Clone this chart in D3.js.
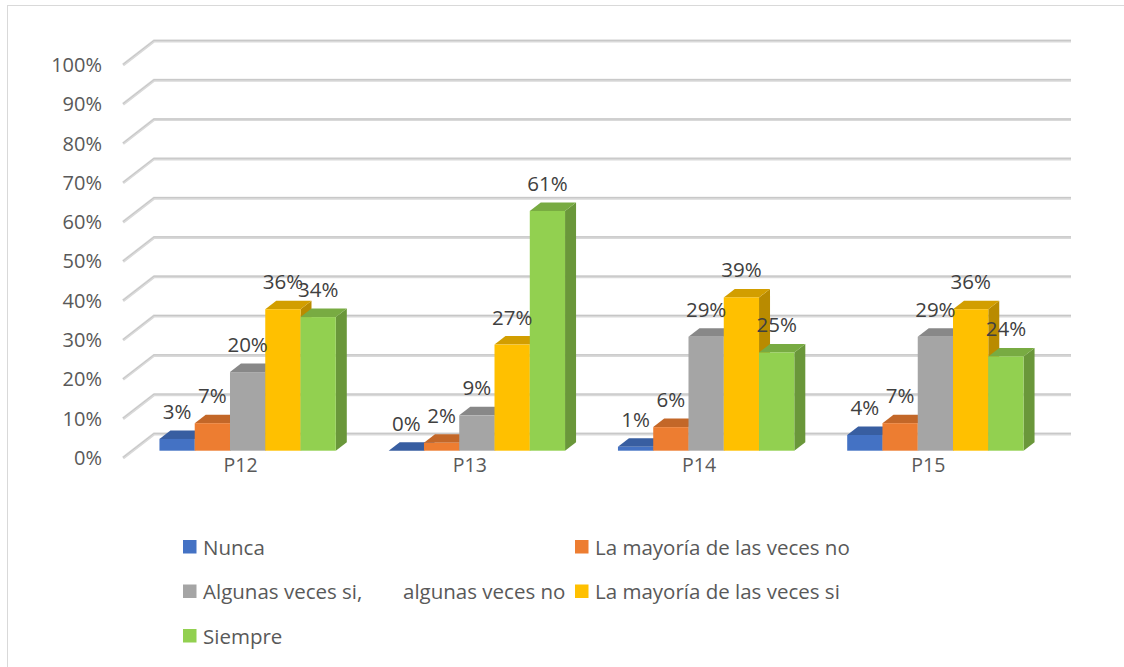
<!DOCTYPE html>
<html>
<head>
<meta charset="utf-8">
<script src="https://cdn.jsdelivr.net/npm/d3@7"></script>
<style>
  body { margin: 0; background: #fff; }
  svg { display: block; font-family: "Open Sans", Lato, sans-serif; }
</style>
</head>
<body>
<svg id="chart" width="1124" height="667"></svg>
<script>
// data
const categories = ['P12', 'P13', 'P14', 'P15']
const series = ['Nunca', 'La mayoría de las veces no', 'Algunas veces si,\talgunas veces no', 'La mayoría de las veces si', 'Siempre']
const nunca = [3, 0, 1, 4]
const mayoriaNo = [7, 2, 6, 7]
const algunas = [20, 9, 29, 29]
const mayoriaSi = [36, 27, 39, 36]
const siempre = [34, 61, 25, 24]
const yTicks = [0, 10, 20, 30, 40, 50, 60, 70, 80, 90, 100]
const colors = ['#4472C4', '#ED7D31', '#A5A5A5', '#FFC000', '#92D050']

const values = [nunca, mayoriaNo, algunas, mayoriaSi, siempre]

const svg = d3.select('#chart')

// chart border
svg.append('rect')
    .attr('x', 7.5).attr('y', 5.5)
    .attr('width', 1140).attr('height', 700)
    .attr('fill', 'none').attr('stroke', '#d9d9d9')

// front edge of the floor / side wall
const y = d3.scaleLinear().domain([0, 100]).range([458, 65])
const xFront = d3.scaleBand().domain(categories).range([123, 1040])
const wall = {dx: 31, dy: -24}      // depth of the side wall
const barPlane = {dx: 10, dy: -7.3} // where the bar fronts sit
const barDepth = {dx: 11, dy: -8.5}

// gridlines: diagonal on the side wall, then along the back wall
const grid = svg.append('g')
yTicks.forEach(t => {
    const pts = [[123, y(t)], [123 + wall.dx, y(t) + wall.dy], [1040 + wall.dx, y(t) + wall.dy]]
    grid.append('path').attr('d', d3.line()(pts))
        .attr('fill', 'none').attr('stroke', '#d9d9d9').attr('stroke-width', 3)
    grid.append('path').attr('d', d3.line()(pts.map(p => [p[0], p[1] - 0.6])))
        .attr('fill', 'none').attr('stroke', '#c6c6c6').attr('stroke-width', 1)
})

// value axis
const yAxis = svg.append('g')
    .attr('transform', 'translate(110,0)')
    .call(d3.axisLeft(y).tickValues(yTicks).tickSize(0).tickPadding(8).tickFormat(d => d + '%'))
yAxis.select('.domain').remove()
yAxis.selectAll('text')
    .attr('fill', '#595959').style('font-size', '20px').style('font-family', '"Open Sans", sans-serif')

// category axis
const xAxis = svg.append('g')
    .attr('transform', 'translate(0,458)')
    .call(d3.axisBottom(xFront).tickSize(0).tickPadding(0))
xAxis.select('.domain').remove()
xAxis.selectAll('text')
    .attr('transform', 'translate(3,0)')
    .attr('fill', '#595959').style('font-size', '19.5px').style('font-family', '"Open Sans", sans-serif')

// bars
const bw = xFront.bandwidth()
const barW = bw / (series.length + 1.5)
const xSeries = d3.scaleBand().domain(d3.range(series.length))
    .range([barW * 0.75, bw - barW * 0.75])

const bars = svg.append('g')
const labels = svg.append('g')
categories.forEach((c, ci) => {
    series.forEach((s, si) => {
        const v = values[si][ci]
        const x0 = xFront(c) + barPlane.dx + xSeries(si)
        const x1 = x0 + xSeries.bandwidth()
        const base = y(0) + barPlane.dy
        const top = y(v) + barPlane.dy
        const col = d3.color(colors[si])
        const {dx, dy} = barDepth
        bars.append('path')
            .attr('d', d3.line()([[x1, top], [x1 + dx, top + dy], [x1 + dx, base + dy], [x1, base]]) + 'Z')
            .attr('fill', col.darker(0.9))
        bars.append('path')
            .attr('d', d3.line()([[x0, top], [x0 + dx, top + dy], [x1 + dx, top + dy], [x1, top]]) + 'Z')
            .attr('fill', col.darker(0.55))
        if (v > 0) {
            bars.append('rect')
                .attr('x', x0).attr('y', top)
                .attr('width', x1 - x0).attr('height', base - top)
                .attr('fill', col)
        }
        labels.append('text')
            .attr('x', (x0 + x1) / 2).attr('y', top - 20)
            .attr('text-anchor', 'middle')
            .attr('fill', '#404040').style('font-size', '20.5px')
            .text(v + '%')
    })
})

// legend, two columns
const legend = svg.append('g')
const legX = [183, 575]
series.forEach((s, i) => {
    const gx = legX[i % 2]
    const gy = 547 + Math.floor(i / 2) * 44.5
    legend.append('rect')
        .attr('x', gx).attr('y', gy - 7).attr('width', 13.5).attr('height', 13.5)
        .attr('fill', colors[i])
    const parts = s.split('\t')
    const t = legend.append('text')
        .attr('y', gy + 7.5)
        .attr('fill', '#595959').style('font-size', '20.5px')
    t.append('tspan').attr('x', gx + 20).text(parts[0])
    if (parts[1]) t.append('tspan').attr('x', gx + 220).text(parts[1])
})
</script>
</body>
</html>
